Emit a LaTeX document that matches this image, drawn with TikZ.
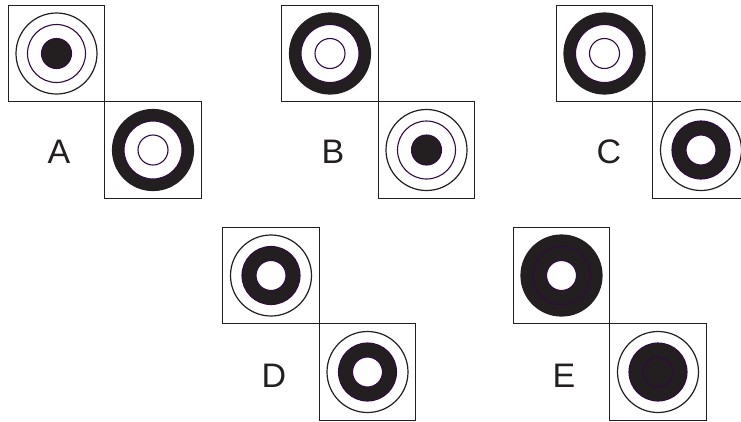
\documentclass[tikz,border=0pt]{standalone}
\usepackage{fontspec}
\setmainfont{Liberation Sans}
\definecolor{tgink}{RGB}{35,31,32}
\definecolor{tgplum}{RGB}{50,10,66}
% target: centre node, outer ring, middle ring, inner disk
\newcommand{\drawtarget}[4]{%
  \fill[#2] (#1.center) circle (40.5pt);
  \fill[#3] (#1.center) circle (29pt);
  \fill[#4] (#1.center) circle (15pt);
  \draw[rim] (#1.center) circle (40.5pt);
  \draw[ring] (#1.center) circle (29pt) (#1.center) circle (15pt);
}

\begin{document}
\begin{tikzpicture}[x=1pt, y=-1pt,
    cell/.style={rectangle, draw=tgink, line width=1.4pt, minimum size=96.5pt,
                 inner sep=0pt, outer sep=0pt},
    rim/.style={draw=tgink, line width=1.2pt},
    ring/.style={draw=tgplum, line width=1.1pt},
    letter/.style={font=\fontsize{34}{34}\selectfont, text=tgink, inner sep=0pt}
  ]
    \useasboundingbox (0,0) rectangle (741,421);
    \clip (0,0) rectangle (741,421);

    % squares
    \node[cell] (a1) at (56.5, 53.5) {};
    \node[cell, anchor=north west] (a2) at (a1.south east) {};
    \node[cell] (b1) at (330, 53.5) {};
    \node[cell, anchor=north west] (b2) at (b1.south east) {};
    \node[cell] (c1) at (604.5, 53.5) {};
    \node[cell, anchor=north west] (c2) at (c1.south east) {};
    \node[cell] (d1) at (271, 275.5) {};
    \node[cell, anchor=north west] (d2) at (d1.south east) {};
    \node[cell] (e1) at (561.5, 275.5) {};
    \node[cell, anchor=north west] (e2) at (e1.south east) {};

    % targets
    \drawtarget{a1}{white}{white}{tgink}
    \drawtarget{a2}{tgink}{white}{white}
    \drawtarget{b1}{tgink}{white}{white}
    \drawtarget{b2}{white}{white}{tgink}
    \drawtarget{c1}{tgink}{white}{white}
    \drawtarget{c2}{white}{tgink}{white}
    \drawtarget{d1}{white}{tgink}{white}
    \drawtarget{d2}{white}{tgink}{white}
    \drawtarget{e1}{tgink}{tgink}{white}
    \drawtarget{e2}{white}{tgink}{tgink}

    % labels
    \node[letter] (la) at (59, 152) {A};
    \node[letter] (lb) at (333, 152) {B};
    \node[letter] (lc) at (609, 152) {C};
    \node[letter] (ld) at (274, 376) {D};
    \node[letter] (le) at (564, 376) {E};
\end{tikzpicture}
\end{document}
